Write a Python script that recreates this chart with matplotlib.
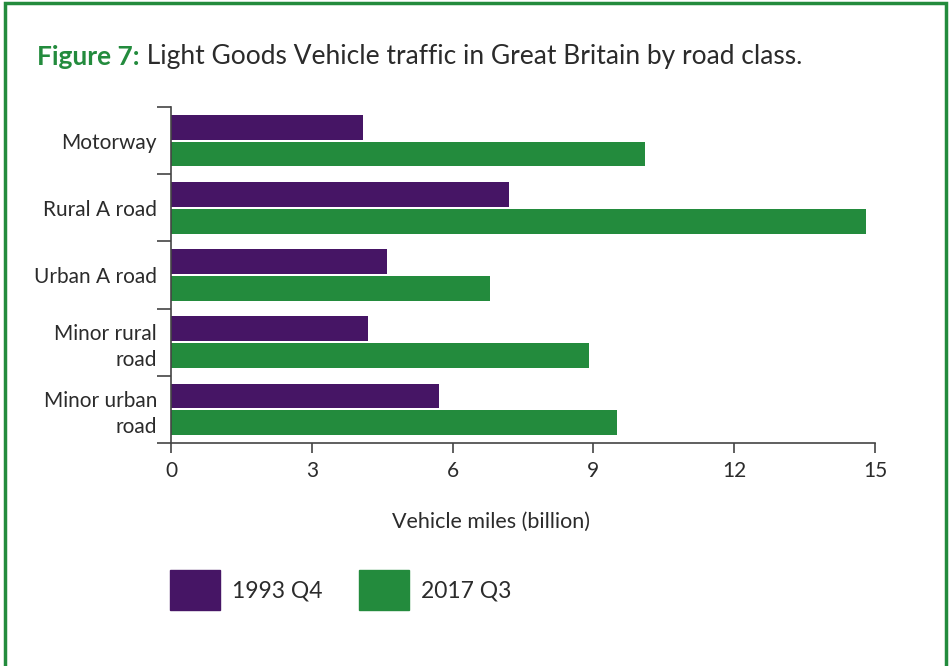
import matplotlib.pyplot as plt
from matplotlib.patches import Rectangle, Patch

plt.rcParams['font.family'] = ['Lato', 'DejaVu Sans']

# Datos (miles de millones de millas-vehículo)
categorias = ['Motorway', 'Rural A road', 'Urban A road', 'Minor rural\nroad', 'Minor urban\nroad']
valores_1993 = [4.1, 7.2, 4.6, 4.2, 5.7]
valores_2017 = [10.1, 14.8, 6.8, 8.9, 9.5]
series = ['1993 Q4', '2017 Q3']
xticks = [0, 3, 6, 9, 12, 15]

morado = '#461565'
verde = '#238b3d'
texto = '#2b2b2b'
gris = '#444444'

fig = plt.figure(figsize=(9.5, 6.66), dpi=100)
fig.patches.append(Rectangle((5 / 950, -0.05), 941 / 950, 1.05 - 3 / 666,
                             transform=fig.transFigure, fill=False,
                             edgecolor=verde, linewidth=2.5))

ax = fig.add_axes([171 / 950, 1 - 443 / 666, 704 / 950, 336 / 666])

pos = list(range(len(categorias)))
h = 0.37
ax.barh([p - h / 2 - 0.015 for p in pos], valores_1993, height=h, color=morado, label=series[0])
ax.barh([p + h / 2 + 0.015 for p in pos], valores_2017, height=h, color=verde, label=series[1])

ax.set_ylim(len(categorias) - 0.5, -0.5)
ax.set_xlim(0, 15)
ax.set_xticks(xticks)
ax.set_xticklabels([str(x) for x in xticks], fontsize=15, color=texto)
ax.tick_params(axis='x', length=7, width=1.2, color=gris, pad=6)

ax.set_yticks([p - 0.5 for p in pos] + [len(categorias) - 0.5])
ax.set_yticklabels([])
ax.set_yticks(pos, minor=True)
ax.set_yticklabels(categorias, minor=True, fontsize=15, color=texto, linespacing=1.35)
ax.tick_params(axis='y', which='major', length=10, width=1.2, color=gris)
ax.tick_params(axis='y', which='minor', length=0, pad=10)

for s in ['top', 'right']:
    ax.spines[s].set_visible(False)
for s in ['left', 'bottom']:
    ax.spines[s].set_color(gris)
    ax.spines[s].set_linewidth(1.2)

ax.set_xlabel('Vehicle miles (billion)', fontsize=15.5, color=texto)
ax.xaxis.set_label_coords((491 - 171) / 704, -(512 - 443) / 336)

t1 = fig.text(37 / 950, 1 - 65 / 666, 'Figure 7:', fontsize=19, fontweight='bold', color=verde)
ax.annotate(' Light Goods Vehicle traffic in Great Britain by road class.',
            xy=(1, 0), xycoords=t1, va='bottom', fontsize=19, color=texto,
            annotation_clip=False)

handles = [Patch(color=morado), Patch(color=verde)]
fig.legend(handles, series, loc='upper left', bbox_to_anchor=(170 / 950, 1 - 570 / 666),
           ncol=2, frameon=False, fontsize=16.5, handlelength=2.2, handleheight=2.3,
           handletextpad=0.5, columnspacing=1.6, borderpad=0, borderaxespad=0,
           labelcolor=texto)

fig.savefig('out.png', dpi=100, facecolor='white')
